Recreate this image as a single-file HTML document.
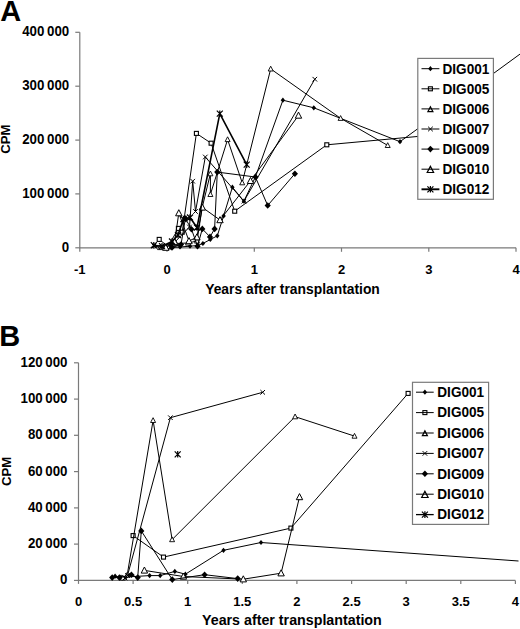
<!DOCTYPE html>
<html><head><meta charset="utf-8"><style>
html,body{margin:0;padding:0;background:#fff;}
svg{display:block;}
text{font-family:"Liberation Sans", sans-serif;font-weight:bold;fill:#000;}
</style></head><body>
<svg width="520" height="629" viewBox="0 0 520 629">
<text x="0.2" y="21" font-size="29" text-anchor="start" >A</text>
<path d="M79.8,32.3V247.8H516.0" fill="none" stroke="#7a7a7a" stroke-width="1.2"/>
<path d="M75.3,247.8H79.8" stroke="#7a7a7a" stroke-width="1.2"/>
<text transform="translate(69.2,251.9) scale(1,1.06)" font-size="13.3" text-anchor="end" >0</text>
<path d="M75.3,193.9H79.8" stroke="#7a7a7a" stroke-width="1.2"/>
<text transform="translate(69.2,198.0) scale(1,1.06)" font-size="13.3" text-anchor="end" >100 000</text>
<path d="M75.3,140.1H79.8" stroke="#7a7a7a" stroke-width="1.2"/>
<text transform="translate(69.2,144.2) scale(1,1.06)" font-size="13.3" text-anchor="end" >200 000</text>
<path d="M75.3,86.2H79.8" stroke="#7a7a7a" stroke-width="1.2"/>
<text transform="translate(69.2,90.3) scale(1,1.06)" font-size="13.3" text-anchor="end" >300 000</text>
<path d="M75.3,32.3H79.8" stroke="#7a7a7a" stroke-width="1.2"/>
<text transform="translate(69.2,36.4) scale(1,1.06)" font-size="13.3" text-anchor="end" >400 000</text>
<path d="M79.8,247.8V251.8" stroke="#7a7a7a" stroke-width="1.2"/>
<text x="79.8" y="274" font-size="13" text-anchor="middle" >-1</text>
<path d="M167.0,247.8V251.8" stroke="#7a7a7a" stroke-width="1.2"/>
<text x="167.0" y="274" font-size="13" text-anchor="middle" >0</text>
<path d="M254.3,247.8V251.8" stroke="#7a7a7a" stroke-width="1.2"/>
<text x="254.3" y="274" font-size="13" text-anchor="middle" >1</text>
<path d="M341.5,247.8V251.8" stroke="#7a7a7a" stroke-width="1.2"/>
<text x="341.5" y="274" font-size="13" text-anchor="middle" >2</text>
<path d="M428.8,247.8V251.8" stroke="#7a7a7a" stroke-width="1.2"/>
<text x="428.8" y="274" font-size="13" text-anchor="middle" >3</text>
<path d="M516.0,247.8V251.8" stroke="#7a7a7a" stroke-width="1.2"/>
<text x="516.0" y="274" font-size="13" text-anchor="middle" >4</text>
<text x="292.5" y="293.8" font-size="13.85" text-anchor="middle" >Years after transplantation</text>
<text transform="translate(10.3,139.1) rotate(-90)" font-size="13.2" text-anchor="middle">CPM</text>
<polyline points="170.0,247.5 180.0,247.0 190.0,246.2 197.5,245.5 202.9,243.5 210.3,239.5 217.3,235.8 223.6,215.9 232.4,187.2 243.9,201.2 255.4,177.0 282.9,100.2 313.8,107.8 400.0,141.7 560.0,24.9" fill="none" stroke="#000" stroke-width="1.0" stroke-linejoin="round"/>
<polygon points="170.0,244.9 172.2,247.5 170.0,250.1 167.8,247.5" fill="#000"/>
<polygon points="180.0,244.4 182.2,247.0 180.0,249.6 177.8,247.0" fill="#000"/>
<polygon points="190.0,243.6 192.2,246.2 190.0,248.8 187.8,246.2" fill="#000"/>
<polygon points="197.5,242.9 199.7,245.5 197.5,248.1 195.3,245.5" fill="#000"/>
<polygon points="202.9,240.9 205.1,243.5 202.9,246.1 200.7,243.5" fill="#000"/>
<polygon points="210.3,236.9 212.5,239.5 210.3,242.1 208.1,239.5" fill="#000"/>
<polygon points="217.3,233.2 219.5,235.8 217.3,238.4 215.1,235.8" fill="#000"/>
<polygon points="223.6,213.3 225.8,215.9 223.6,218.5 221.4,215.9" fill="#000"/>
<polygon points="232.4,184.6 234.6,187.2 232.4,189.8 230.2,187.2" fill="#000"/>
<polygon points="243.9,198.6 246.1,201.2 243.9,203.8 241.7,201.2" fill="#000"/>
<polygon points="255.4,174.4 257.6,177.0 255.4,179.6 253.2,177.0" fill="#000"/>
<polygon points="282.9,97.6 285.1,100.2 282.9,102.8 280.7,100.2" fill="#000"/>
<polygon points="313.8,105.2 316.0,107.8 313.8,110.4 311.6,107.8" fill="#000"/>
<polygon points="400.0,139.1 402.2,141.7 400.0,144.3 397.8,141.7" fill="#000"/>
<polyline points="159.2,239.4 168.0,246.5 178.4,228.4 182.2,232.2 196.4,133.4 211.1,143.2 234.7,211.2 326.8,144.8 450.0,133.5" fill="none" stroke="#000" stroke-width="1.0" stroke-linejoin="round"/>
<rect x="157.2" y="237.4" width="4.0" height="4.0" fill="#fff" stroke="#000" stroke-width="1.1"/>
<rect x="166.0" y="244.5" width="4.0" height="4.0" fill="#fff" stroke="#000" stroke-width="1.1"/>
<rect x="176.4" y="226.4" width="4.0" height="4.0" fill="#fff" stroke="#000" stroke-width="1.1"/>
<rect x="180.2" y="230.2" width="4.0" height="4.0" fill="#fff" stroke="#000" stroke-width="1.1"/>
<rect x="194.4" y="131.4" width="4.0" height="4.0" fill="#fff" stroke="#000" stroke-width="1.1"/>
<rect x="209.1" y="141.2" width="4.0" height="4.0" fill="#fff" stroke="#000" stroke-width="1.1"/>
<rect x="232.7" y="209.2" width="4.0" height="4.0" fill="#fff" stroke="#000" stroke-width="1.1"/>
<rect x="324.8" y="142.8" width="4.0" height="4.0" fill="#fff" stroke="#000" stroke-width="1.1"/>
<rect x="448.0" y="131.5" width="4.0" height="4.0" fill="#fff" stroke="#000" stroke-width="1.1"/>
<polyline points="160.0,247.5 168.0,246.5 176.0,243.5 188.0,243.0 197.0,241.0 202.2,207.5 210.4,173.7 210.4,194.4 227.6,139.5 242.2,182.7 270.7,68.9 340.6,118.3 387.7,145.4" fill="none" stroke="#000" stroke-width="1.0" stroke-linejoin="round"/>
<polygon points="160.0,244.8 162.5,249.6 157.5,249.6" fill="#fff" stroke="#000" stroke-width="0.9"/>
<polygon points="168.0,243.8 170.5,248.6 165.5,248.6" fill="#fff" stroke="#000" stroke-width="0.9"/>
<polygon points="176.0,240.8 178.5,245.6 173.5,245.6" fill="#fff" stroke="#000" stroke-width="0.9"/>
<polygon points="188.0,240.3 190.5,245.1 185.5,245.1" fill="#fff" stroke="#000" stroke-width="0.9"/>
<polygon points="197.0,238.3 199.5,243.1 194.5,243.1" fill="#fff" stroke="#000" stroke-width="0.9"/>
<polygon points="202.2,204.8 204.7,209.6 199.7,209.6" fill="#fff" stroke="#000" stroke-width="0.9"/>
<polygon points="210.4,171.0 212.9,175.8 207.9,175.8" fill="#fff" stroke="#000" stroke-width="0.9"/>
<polygon points="210.4,191.7 212.9,196.5 207.9,196.5" fill="#fff" stroke="#000" stroke-width="0.9"/>
<polygon points="227.6,136.8 230.1,141.6 225.1,141.6" fill="#fff" stroke="#000" stroke-width="0.9"/>
<polygon points="242.2,180.0 244.7,184.8 239.7,184.8" fill="#fff" stroke="#000" stroke-width="0.9"/>
<polygon points="270.7,66.2 273.2,71.0 268.2,71.0" fill="#fff" stroke="#000" stroke-width="0.9"/>
<polygon points="340.6,115.6 343.1,120.4 338.1,120.4" fill="#fff" stroke="#000" stroke-width="0.9"/>
<polygon points="387.7,142.7 390.2,147.5 385.2,147.5" fill="#fff" stroke="#000" stroke-width="0.9"/>
<polyline points="154.0,246.0 162.0,247.5 172.0,245.0 189.5,227.0 192.7,181.2 195.5,211.5 205.3,157.0 243.9,201.2 314.8,79.2" fill="none" stroke="#000" stroke-width="1.0" stroke-linejoin="round"/>
<path d="M151.7,243.7L156.3,248.3M151.7,248.3L156.3,243.7" stroke="#000" stroke-width="1"/>
<path d="M159.7,245.2L164.3,249.8M159.7,249.8L164.3,245.2" stroke="#000" stroke-width="1"/>
<path d="M169.7,242.7L174.3,247.3M169.7,247.3L174.3,242.7" stroke="#000" stroke-width="1"/>
<path d="M187.2,224.7L191.8,229.3M187.2,229.3L191.8,224.7" stroke="#000" stroke-width="1"/>
<path d="M190.4,178.9L195.0,183.5M190.4,183.5L195.0,178.9" stroke="#000" stroke-width="1"/>
<path d="M193.2,209.2L197.8,213.8M193.2,213.8L197.8,209.2" stroke="#000" stroke-width="1"/>
<path d="M203.0,154.7L207.6,159.3M203.0,159.3L207.6,154.7" stroke="#000" stroke-width="1"/>
<path d="M241.6,198.9L246.2,203.5M241.6,203.5L246.2,198.9" stroke="#000" stroke-width="1"/>
<path d="M312.5,76.9L317.1,81.5M312.5,81.5L317.1,76.9" stroke="#000" stroke-width="1"/>
<polyline points="165.8,247.6 174.6,241.9 178.8,213.1 189.0,241.0 196.9,237.2 202.3,207.4 220.0,220.0 250.5,180.8 298.5,115.5" fill="none" stroke="#000" stroke-width="1.0" stroke-linejoin="round"/>
<polygon points="165.8,244.2 169.0,250.3 162.6,250.3" fill="#fff" stroke="#000" stroke-width="1"/>
<polygon points="174.6,238.5 177.8,244.6 171.4,244.6" fill="#fff" stroke="#000" stroke-width="1"/>
<polygon points="178.8,209.7 182.0,215.8 175.6,215.8" fill="#fff" stroke="#000" stroke-width="1"/>
<polygon points="189.0,237.6 192.2,243.7 185.8,243.7" fill="#fff" stroke="#000" stroke-width="1"/>
<polygon points="196.9,233.8 200.1,239.9 193.7,239.9" fill="#fff" stroke="#000" stroke-width="1"/>
<polygon points="202.3,204.0 205.5,210.1 199.1,210.1" fill="#fff" stroke="#000" stroke-width="1"/>
<polygon points="220.0,216.6 223.2,222.7 216.8,222.7" fill="#fff" stroke="#000" stroke-width="1"/>
<polygon points="250.5,177.4 253.7,183.5 247.3,183.5" fill="#fff" stroke="#000" stroke-width="1"/>
<polygon points="298.5,112.1 301.7,118.2 295.3,118.2" fill="#fff" stroke="#000" stroke-width="1"/>
<polyline points="172.0,247.5 181.0,244.5 185.4,218.5 191.5,229.2 197.5,246.3 202.3,228.9 210.0,236.9 214.6,228.9 217.3,172.1 255.4,177.0 267.7,205.5 294.9,173.7" fill="none" stroke="#000" stroke-width="1.0" stroke-linejoin="round"/>
<polygon points="172.0,244.2 175.1,247.5 172.0,250.8 168.9,247.5" fill="#000"/>
<polygon points="181.0,241.2 184.1,244.5 181.0,247.8 177.9,244.5" fill="#000"/>
<polygon points="185.4,215.2 188.5,218.5 185.4,221.8 182.3,218.5" fill="#000"/>
<polygon points="191.5,225.9 194.6,229.2 191.5,232.5 188.4,229.2" fill="#000"/>
<polygon points="197.5,243.0 200.6,246.3 197.5,249.6 194.4,246.3" fill="#000"/>
<polygon points="202.3,225.6 205.4,228.9 202.3,232.2 199.2,228.9" fill="#000"/>
<polygon points="210.0,233.6 213.1,236.9 210.0,240.2 206.9,236.9" fill="#000"/>
<polygon points="214.6,225.6 217.7,228.9 214.6,232.2 211.5,228.9" fill="#000"/>
<polygon points="217.3,168.8 220.4,172.1 217.3,175.4 214.2,172.1" fill="#000"/>
<polygon points="255.4,173.7 258.5,177.0 255.4,180.3 252.3,177.0" fill="#000"/>
<polygon points="267.7,202.2 270.8,205.5 267.7,208.8 264.6,205.5" fill="#000"/>
<polygon points="294.9,170.4 298.0,173.7 294.9,177.0 291.8,173.7" fill="#000"/>
<polyline points="153.8,245.2 162.0,246.2 172.0,241.5 178.0,235.0 183.5,219.0 190.0,217.5 197.0,227.5 219.8,113.7 246.7,164.7" fill="none" stroke="#000" stroke-width="1.6" stroke-linejoin="round"/>
<path d="M150.8,242.2L156.8,248.2M150.8,248.2L156.8,242.2M153.8,241.9L153.8,248.5" stroke="#000" stroke-width="1.2"/>
<path d="M159.0,243.2L165.0,249.2M159.0,249.2L165.0,243.2M162.0,242.9L162.0,249.5" stroke="#000" stroke-width="1.2"/>
<path d="M169.0,238.5L175.0,244.5M169.0,244.5L175.0,238.5M172.0,238.2L172.0,244.8" stroke="#000" stroke-width="1.2"/>
<path d="M175.0,232.0L181.0,238.0M175.0,238.0L181.0,232.0M178.0,231.7L178.0,238.3" stroke="#000" stroke-width="1.2"/>
<path d="M180.5,216.0L186.5,222.0M180.5,222.0L186.5,216.0M183.5,215.7L183.5,222.3" stroke="#000" stroke-width="1.2"/>
<path d="M187.0,214.5L193.0,220.5M187.0,220.5L193.0,214.5M190.0,214.2L190.0,220.8" stroke="#000" stroke-width="1.2"/>
<path d="M194.0,224.5L200.0,230.5M194.0,230.5L200.0,224.5M197.0,224.2L197.0,230.8" stroke="#000" stroke-width="1.2"/>
<path d="M216.8,110.7L222.8,116.7M216.8,116.7L222.8,110.7M219.8,110.4L219.8,117.0" stroke="#000" stroke-width="1.2"/>
<path d="M243.7,161.7L249.7,167.7M243.7,167.7L249.7,161.7M246.7,161.4L246.7,168.0" stroke="#000" stroke-width="1.2"/>
<rect x="417.8" y="58.4" width="75.6" height="140.9" fill="#fff" stroke="#7a7a7a" stroke-width="1.2"/>
<path d="M421.5,68.7H439.4" stroke="#000" stroke-width="1.0"/>
<polygon points="430.4,66.1 432.6,68.7 430.4,71.3 428.2,68.7" fill="#000"/>
<text transform="translate(442.5,73.5) scale(1,1.04)" font-size="13.6" text-anchor="start" >DIG001</text>
<path d="M421.5,88.8H439.4" stroke="#000" stroke-width="1.0"/>
<rect x="428.4" y="86.8" width="4.0" height="4.0" fill="none" stroke="#000" stroke-width="1.1"/>
<text transform="translate(442.5,93.6) scale(1,1.04)" font-size="13.6" text-anchor="start" >DIG005</text>
<path d="M421.5,108.9H439.4" stroke="#000" stroke-width="1.0"/>
<polygon points="430.4,106.8 432.9,111.6 427.9,111.6" fill="none" stroke="#000" stroke-width="1.2"/>
<text transform="translate(442.5,113.7) scale(1,1.04)" font-size="13.6" text-anchor="start" >DIG006</text>
<path d="M421.5,129.0H439.4" stroke="#000" stroke-width="1.0"/>
<path d="M428.1,126.7L432.8,131.3M428.1,131.3L432.8,126.7" stroke="#000" stroke-width="1"/>
<text transform="translate(442.5,133.8) scale(1,1.04)" font-size="13.6" text-anchor="start" >DIG007</text>
<path d="M421.5,149.1H439.4" stroke="#000" stroke-width="1.0"/>
<polygon points="430.4,145.8 433.6,149.1 430.4,152.4 427.3,149.1" fill="#000"/>
<text transform="translate(442.5,153.9) scale(1,1.04)" font-size="13.6" text-anchor="start" >DIG009</text>
<path d="M421.5,169.2H439.4" stroke="#000" stroke-width="1.0"/>
<polygon points="430.4,166.4 433.6,172.5 427.2,172.5" fill="none" stroke="#000" stroke-width="1.2"/>
<text transform="translate(442.5,174.0) scale(1,1.04)" font-size="13.6" text-anchor="start" >DIG010</text>
<path d="M421.5,189.3H439.4" stroke="#000" stroke-width="1.9"/>
<path d="M427.4,186.3L433.4,192.3M427.4,192.3L433.4,186.3M430.4,186.0L430.4,192.6" stroke="#000" stroke-width="1.2"/>
<text transform="translate(442.5,194.1) scale(1,1.04)" font-size="13.6" text-anchor="start" >DIG012</text>
<text x="-0.7" y="345.8" font-size="29" text-anchor="start" >B</text>
<path d="M78.5,362.8V580.4H515.4" fill="none" stroke="#7a7a7a" stroke-width="1.2"/>
<path d="M74.0,580.4H78.5" stroke="#7a7a7a" stroke-width="1.2"/>
<text transform="translate(67.5,584.3) scale(1,1.06)" font-size="13.3" text-anchor="end" >0</text>
<path d="M74.0,544.1H78.5" stroke="#7a7a7a" stroke-width="1.2"/>
<text transform="translate(67.5,548.0) scale(1,1.06)" font-size="13.3" text-anchor="end" >20 000</text>
<path d="M74.0,507.9H78.5" stroke="#7a7a7a" stroke-width="1.2"/>
<text transform="translate(67.5,511.8) scale(1,1.06)" font-size="13.3" text-anchor="end" >40 000</text>
<path d="M74.0,471.6H78.5" stroke="#7a7a7a" stroke-width="1.2"/>
<text transform="translate(67.5,475.5) scale(1,1.06)" font-size="13.3" text-anchor="end" >60 000</text>
<path d="M74.0,435.3H78.5" stroke="#7a7a7a" stroke-width="1.2"/>
<text transform="translate(67.5,439.2) scale(1,1.06)" font-size="13.3" text-anchor="end" >80 000</text>
<path d="M74.0,399.1H78.5" stroke="#7a7a7a" stroke-width="1.2"/>
<text transform="translate(67.5,403.0) scale(1,1.06)" font-size="13.3" text-anchor="end" >100 000</text>
<path d="M74.0,362.8H78.5" stroke="#7a7a7a" stroke-width="1.2"/>
<text transform="translate(67.5,366.7) scale(1,1.06)" font-size="13.3" text-anchor="end" >120 000</text>
<path d="M78.5,580.4V583.9" stroke="#7a7a7a" stroke-width="1.2"/>
<text x="78.5" y="606" font-size="13" text-anchor="middle" >0</text>
<path d="M133.1,580.4V583.9" stroke="#7a7a7a" stroke-width="1.2"/>
<text x="133.1" y="606" font-size="13" text-anchor="middle" >0.5</text>
<path d="M187.7,580.4V583.9" stroke="#7a7a7a" stroke-width="1.2"/>
<text x="187.7" y="606" font-size="13" text-anchor="middle" >1</text>
<path d="M242.3,580.4V583.9" stroke="#7a7a7a" stroke-width="1.2"/>
<text x="242.3" y="606" font-size="13" text-anchor="middle" >1.5</text>
<path d="M296.9,580.4V583.9" stroke="#7a7a7a" stroke-width="1.2"/>
<text x="296.9" y="606" font-size="13" text-anchor="middle" >2</text>
<path d="M351.6,580.4V583.9" stroke="#7a7a7a" stroke-width="1.2"/>
<text x="351.6" y="606" font-size="13" text-anchor="middle" >2.5</text>
<path d="M406.2,580.4V583.9" stroke="#7a7a7a" stroke-width="1.2"/>
<text x="406.2" y="606" font-size="13" text-anchor="middle" >3</text>
<path d="M460.8,580.4V583.9" stroke="#7a7a7a" stroke-width="1.2"/>
<text x="460.8" y="606" font-size="13" text-anchor="middle" >3.5</text>
<path d="M515.4,580.4V583.9" stroke="#7a7a7a" stroke-width="1.2"/>
<text x="515.4" y="606" font-size="13" text-anchor="middle" >4</text>
<text x="291.9" y="624.9" font-size="14.25" text-anchor="middle" >Years after transplantation</text>
<text transform="translate(11.0,471.3) rotate(-90)" font-size="13.2" text-anchor="middle">CPM</text>
<polyline points="115.1,576.2 121.0,577.2 126.0,577.0 149.6,575.6 160.2,575.6 174.8,571.4 185.4,574.2 223.5,550.3 261.0,542.5 518.5,561.0" fill="none" stroke="#000" stroke-width="1.0" stroke-linejoin="round"/>
<polygon points="115.1,573.6 117.3,576.2 115.1,578.8 112.9,576.2" fill="#000"/>
<polygon points="121.0,574.6 123.2,577.2 121.0,579.8 118.8,577.2" fill="#000"/>
<polygon points="126.0,574.4 128.2,577.0 126.0,579.6 123.8,577.0" fill="#000"/>
<polygon points="149.6,573.0 151.8,575.6 149.6,578.2 147.4,575.6" fill="#000"/>
<polygon points="160.2,573.0 162.4,575.6 160.2,578.2 158.0,575.6" fill="#000"/>
<polygon points="174.8,568.8 177.0,571.4 174.8,574.0 172.6,571.4" fill="#000"/>
<polygon points="185.4,571.6 187.6,574.2 185.4,576.8 183.2,574.2" fill="#000"/>
<polygon points="223.5,547.7 225.7,550.3 223.5,552.9 221.3,550.3" fill="#000"/>
<polygon points="261.0,539.9 263.2,542.5 261.0,545.1 258.8,542.5" fill="#000"/>
<polyline points="133.1,535.6 163.5,557.1 290.9,528.1 408.1,393.4" fill="none" stroke="#000" stroke-width="1.0" stroke-linejoin="round"/>
<rect x="131.1" y="533.6" width="4.0" height="4.0" fill="#fff" stroke="#000" stroke-width="1.1"/>
<rect x="161.5" y="555.1" width="4.0" height="4.0" fill="#fff" stroke="#000" stroke-width="1.1"/>
<rect x="288.9" y="526.1" width="4.0" height="4.0" fill="#fff" stroke="#000" stroke-width="1.1"/>
<rect x="406.1" y="391.4" width="4.0" height="4.0" fill="#fff" stroke="#000" stroke-width="1.1"/>
<polyline points="122.8,578.0 127.2,575.0 153.1,420.4 172.1,539.6 295.1,416.7 354.5,436.1" fill="none" stroke="#000" stroke-width="1.0" stroke-linejoin="round"/>
<polygon points="122.8,575.3 125.3,580.1 120.3,580.1" fill="#fff" stroke="#000" stroke-width="0.9"/>
<polygon points="127.2,572.3 129.7,577.1 124.7,577.1" fill="#fff" stroke="#000" stroke-width="0.9"/>
<polygon points="153.1,417.7 155.6,422.5 150.6,422.5" fill="#fff" stroke="#000" stroke-width="0.9"/>
<polygon points="172.1,536.9 174.6,541.7 169.6,541.7" fill="#fff" stroke="#000" stroke-width="0.9"/>
<polygon points="295.1,414.0 297.6,418.8 292.6,418.8" fill="#fff" stroke="#000" stroke-width="0.9"/>
<polygon points="354.5,433.4 357.0,438.2 352.0,438.2" fill="#fff" stroke="#000" stroke-width="0.9"/>
<polyline points="125.0,578.0 127.5,575.5 170.4,417.7 262.7,392.3" fill="none" stroke="#000" stroke-width="1.0" stroke-linejoin="round"/>
<path d="M122.7,575.7L127.3,580.3M122.7,580.3L127.3,575.7" stroke="#000" stroke-width="1"/>
<path d="M125.2,573.2L129.8,577.8M125.2,577.8L129.8,573.2" stroke="#000" stroke-width="1"/>
<path d="M168.1,415.4L172.7,420.0M168.1,420.0L172.7,415.4" stroke="#000" stroke-width="1"/>
<path d="M260.4,390.0L265.0,394.6M260.4,394.6L265.0,390.0" stroke="#000" stroke-width="1"/>
<polyline points="144.4,570.4 183.4,576.5 243.3,579.2 281.1,573.2 299.5,497.0" fill="none" stroke="#000" stroke-width="1.0" stroke-linejoin="round"/>
<polygon points="144.4,567.0 147.6,573.1 141.2,573.1" fill="#fff" stroke="#000" stroke-width="1"/>
<polygon points="183.4,573.1 186.6,579.2 180.2,579.2" fill="#fff" stroke="#000" stroke-width="1"/>
<polygon points="243.3,575.8 246.5,581.9 240.1,581.9" fill="#fff" stroke="#000" stroke-width="1"/>
<polygon points="281.1,569.8 284.3,575.9 277.9,575.9" fill="#fff" stroke="#000" stroke-width="1"/>
<polygon points="299.5,493.6 302.7,499.7 296.3,499.7" fill="#fff" stroke="#000" stroke-width="1"/>
<polyline points="112.2,577.6 119.4,577.6 131.4,574.7 137.7,577.6 141.3,530.9 172.3,579.6 204.6,574.7 237.7,578.6" fill="none" stroke="#000" stroke-width="1.0" stroke-linejoin="round"/>
<polygon points="112.2,574.3 115.3,577.6 112.2,580.9 109.1,577.6" fill="#000"/>
<polygon points="119.4,574.3 122.5,577.6 119.4,580.9 116.3,577.6" fill="#000"/>
<polygon points="131.4,571.4 134.5,574.7 131.4,578.0 128.3,574.7" fill="#000"/>
<polygon points="137.7,574.3 140.8,577.6 137.7,580.9 134.6,577.6" fill="#000"/>
<polygon points="141.3,527.6 144.4,530.9 141.3,534.2 138.2,530.9" fill="#000"/>
<polygon points="172.3,576.3 175.4,579.6 172.3,582.9 169.2,579.6" fill="#000"/>
<polygon points="204.6,571.4 207.7,574.7 204.6,578.0 201.5,574.7" fill="#000"/>
<polygon points="237.7,575.3 240.8,578.6 237.7,581.9 234.6,578.6" fill="#000"/>
<polyline points="177.7,454.3" fill="none" stroke="#000" stroke-width="1.0" stroke-linejoin="round"/>
<path d="M174.7,451.3L180.7,457.3M174.7,457.3L180.7,451.3M177.7,451.0L177.7,457.6" stroke="#000" stroke-width="1.2"/>
<rect x="412.5" y="382.3" width="76.1" height="142.1" fill="#fff" stroke="#7a7a7a" stroke-width="1.2"/>
<path d="M416.0,392.2H433.7" stroke="#000" stroke-width="1.0"/>
<polygon points="424.9,389.6 427.1,392.2 424.9,394.8 422.7,392.2" fill="#000"/>
<text transform="translate(437.3,397.0) scale(1,1.04)" font-size="13.6" text-anchor="start" >DIG001</text>
<path d="M416.0,412.6H433.7" stroke="#000" stroke-width="1.0"/>
<rect x="422.9" y="410.6" width="4.0" height="4.0" fill="none" stroke="#000" stroke-width="1.1"/>
<text transform="translate(437.3,417.4) scale(1,1.04)" font-size="13.6" text-anchor="start" >DIG005</text>
<path d="M416.0,433.0H433.7" stroke="#000" stroke-width="1.0"/>
<polygon points="424.9,430.9 427.4,435.7 422.4,435.7" fill="none" stroke="#000" stroke-width="1.2"/>
<text transform="translate(437.3,437.8) scale(1,1.04)" font-size="13.6" text-anchor="start" >DIG006</text>
<path d="M416.0,453.4H433.7" stroke="#000" stroke-width="1.0"/>
<path d="M422.6,451.1L427.2,455.7M422.6,455.7L427.2,451.1" stroke="#000" stroke-width="1"/>
<text transform="translate(437.3,458.2) scale(1,1.04)" font-size="13.6" text-anchor="start" >DIG007</text>
<path d="M416.0,473.8H433.7" stroke="#000" stroke-width="1.0"/>
<polygon points="424.9,470.5 428.0,473.8 424.9,477.1 421.8,473.8" fill="#000"/>
<text transform="translate(437.3,478.6) scale(1,1.04)" font-size="13.6" text-anchor="start" >DIG009</text>
<path d="M416.0,494.2H433.7" stroke="#000" stroke-width="1.0"/>
<polygon points="424.9,491.4 428.1,497.5 421.7,497.5" fill="none" stroke="#000" stroke-width="1.2"/>
<text transform="translate(437.3,499.0) scale(1,1.04)" font-size="13.6" text-anchor="start" >DIG010</text>
<path d="M416.0,514.6H433.7" stroke="#000" stroke-width="1.3"/>
<path d="M421.9,511.6L427.9,517.6M421.9,517.6L427.9,511.6M424.9,511.3L424.9,517.9" stroke="#000" stroke-width="1.2"/>
<text transform="translate(437.3,519.4) scale(1,1.04)" font-size="13.6" text-anchor="start" >DIG012</text>
</svg>
</body></html>
